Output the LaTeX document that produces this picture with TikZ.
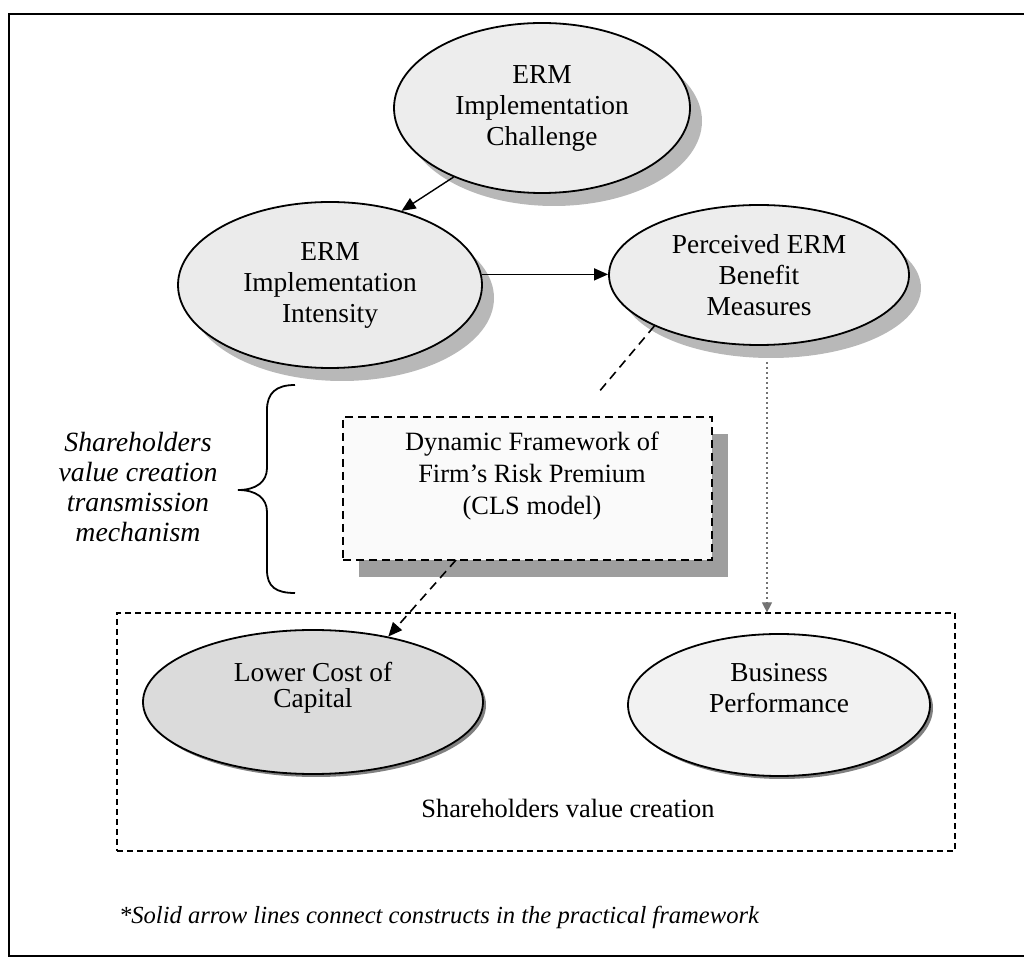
\documentclass[tikz,border=0pt]{standalone}
\usepackage{fontspec}
\setmainfont{Liberation Serif}
\usetikzlibrary{shapes.geometric,arrows.meta,shadows}
\begin{document}
\begin{tikzpicture}[x=0.5pt,y=-0.5pt,
  ell/.style={ellipse,draw=black,line width=0.9pt,inner sep=0pt,align=center,
    font=\fontsize{13.7}{15.5}\selectfont},
  bigshadow/.style={drop shadow={shadow xshift=6pt,shadow yshift=-6.5pt,fill=black!28,opacity=1}},
  thinshadow/.style={drop shadow={shadow xshift=1.5pt,shadow yshift=-1.5pt,fill=black!50,opacity=1}},
  solidarrow/.style={line width=0.7pt,-{Triangle[length=7pt,width=6pt]}},
  dasharrow/.style={line width=0.8pt,dash pattern=on 4.5pt off 3pt,-{Triangle[length=7pt,width=6pt]}},
  dashline/.style={line width=0.8pt,dash pattern=on 4.5pt off 3pt},
  grayarrow/.style={line width=0.6pt,draw=black!55,dash pattern=on 1pt off 1.5pt,
    -{Triangle[length=5pt,width=5pt,fill=black!55]}}
]
\useasboundingbox (0,0) rectangle (1024,967);
% outer frame
\draw[line width=0.9pt] (1024,14) -- (9,14) -- (9,956) -- (1024,956);

% upper ellipses
\node[ell,bigshadow,fill=black!7,minimum width=148pt,minimum height=85pt] (ch) at (542,108)
  {ERM\\Implementation\\Challenge};
\node[ell,bigshadow,fill=black!8,minimum width=152pt,minimum height=83pt] (int) at (330,285)
  {ERM\\Implementation\\Intensity};
\node[ell,bigshadow,fill=black!7,minimum width=150pt,minimum height=70pt] (per) at (759,275)
  {Perceived ERM\\Benefit\\Measures};

% dynamic framework box
\node[draw=black,line width=1pt,dash pattern=on 4pt off 2.5pt,fill=black!2,
  minimum width=184.5pt,minimum height=71.5pt,inner sep=0pt,
  drop shadow={shadow xshift=8pt,shadow yshift=-8.5pt,fill=black!38,opacity=1}]
  (dyn) at (527.5,488.5) {};
\node[align=center,font=\fontsize{13.2}{16}\selectfont] (dyntext) at (532,476)
  {Dynamic Framework of\\Firm's Risk Premium\\(CLS model)};

% brace and its text
\draw[line width=0.9pt] (295,385) .. controls (276,385) and (267,393) .. (267,410)
  -- (267,468) .. controls (267,482) and (256,490) .. (238,490)
  .. controls (256,490) and (267,498) .. (267,512)
  -- (267,570) .. controls (267,587) and (276,593) .. (295,593);
\node[align=center,font=\fontsize{13.9}{15}\selectfont\itshape] (mech) at (138,487)
  {Shareholders\\value creation\\transmission\\mechanism};

% bottom box
\node[draw=black,line width=0.6pt,dash pattern=on 3pt off 2pt,minimum width=419pt,minimum height=119pt,
  inner sep=0pt] (svc) at (536,732) {};
\node[font=\fontsize{13.2}{15}\selectfont] (svclab) at (568,808) {Shareholders value creation};
\node[ell,thinshadow,fill=black!14,minimum width=170pt,minimum height=72pt,
  font=\fontsize{13.7}{13}\selectfont] (low) at (313,702)
  {Lower Cost of\\Capital\\[4pt]};
\node[ell,thinshadow,fill=black!5,minimum width=151pt,minimum height=71pt] (bus) at (779,705)
  {Business\\Performance\\[2pt]};

% connectors
\draw[solidarrow] (ch.218) -- (int.46);
\draw[solidarrow] (int.4) -- (per.west |- int.4);
\coordinate (d1) at (598,393);
\coordinate (d2) at (456,560);
\draw[dashline] (per.206) -- (d1);
\draw[dasharrow] (d2) -- (low.41);
\draw[grayarrow] ([xshift=4pt,yshift=-8pt]per.south) -- ([xshift=4pt]per.south |- svc.north);

% footnote
\node[anchor=west,font=\fontsize{12.3}{14}\selectfont\itshape] (note) at (112,917)
  {*Solid arrow lines connect constructs in the practical framework};
\end{tikzpicture}
\end{document}
